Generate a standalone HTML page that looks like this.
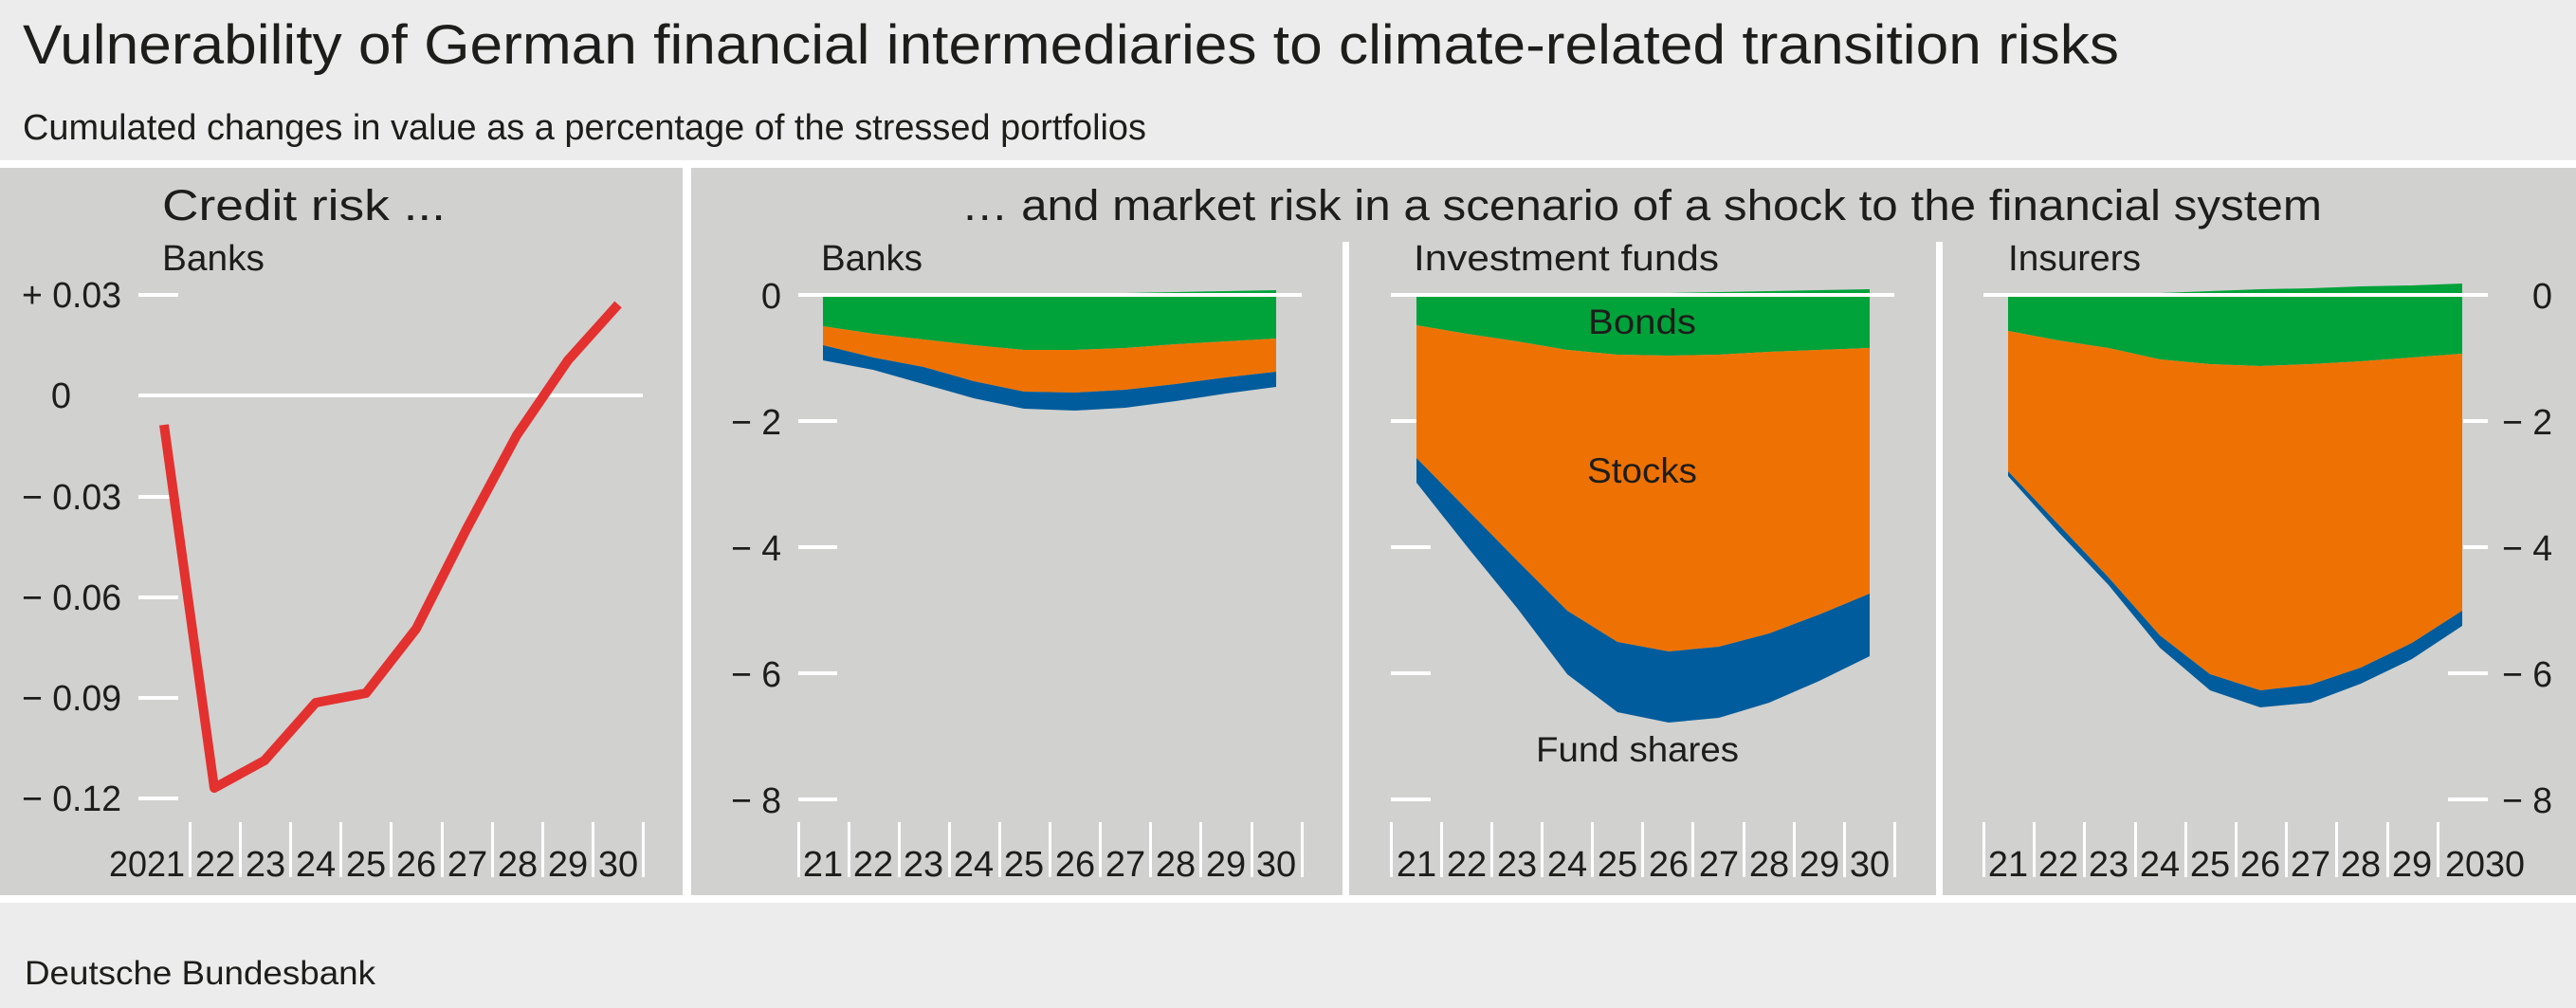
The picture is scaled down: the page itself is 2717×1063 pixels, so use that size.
<!DOCTYPE html>
<html><head><meta charset="utf-8"><style>
html,body{margin:0;padding:0;background:#ececec;}
svg{display:block;}
text{font-family:"Liberation Sans",sans-serif;fill:#1d1d1b;}
</style></head><body>
<svg width="2717" height="1063" viewBox="0 0 2717 1063" xmlns="http://www.w3.org/2000/svg">
<rect x="0" y="0" width="2717" height="1063" fill="#ececec"/>
<text x="24" y="67" font-size="58" textLength="2211" lengthAdjust="spacingAndGlyphs">Vulnerability of German financial intermediaries to climate-related transition risks</text>
<text x="24" y="147" font-size="38" textLength="1185" lengthAdjust="spacingAndGlyphs">Cumulated changes in value as a percentage of the stressed portfolios</text>
<rect x="0" y="169" width="2717" height="8" fill="#fff"/>
<rect x="0" y="177" width="2717" height="767" fill="#d1d1cf"/>
<rect x="0" y="944" width="2717" height="8" fill="#fff"/>
<rect x="720" y="169" width="9" height="783" fill="#fff"/>
<rect x="1416" y="255" width="7" height="690" fill="#fff"/>
<rect x="2042" y="255" width="7" height="690" fill="#fff"/>
<text x="26" y="1038" font-size="35" textLength="370" lengthAdjust="spacingAndGlyphs">Deutsche Bundesbank</text>

<!-- Left chart -->
<text x="171" y="232" font-size="45" textLength="299" lengthAdjust="spacingAndGlyphs">Credit risk ...</text>
<text x="171" y="285" font-size="38" textLength="108" lengthAdjust="spacingAndGlyphs">Banks</text>
<g fill="#fff">
<rect x="146" y="309" width="42" height="4"/>
<rect x="146" y="522" width="42" height="4"/>
<rect x="146" y="628" width="42" height="4"/>
<rect x="146" y="734" width="42" height="4"/>
<rect x="146" y="840" width="42" height="4"/>
<rect x="146" y="415" width="532" height="4"/>
</g>
<g font-size="38" text-anchor="end">
<text x="128" y="324" textLength="105" lengthAdjust="spacingAndGlyphs">+ 0.03</text>
<text x="75" y="430">0</text>
<text x="128" y="537" textLength="105" lengthAdjust="spacingAndGlyphs">− 0.03</text>
<text x="128" y="643" textLength="105" lengthAdjust="spacingAndGlyphs">− 0.06</text>
<text x="128" y="749" textLength="105" lengthAdjust="spacingAndGlyphs">− 0.09</text>
<text x="128" y="855" textLength="105" lengthAdjust="spacingAndGlyphs">− 0.12</text>
</g>
<g fill="#fff">
<rect x="199" y="867" width="3" height="58"/><rect x="252" y="867" width="3" height="58"/><rect x="305" y="867" width="3" height="58"/><rect x="358" y="867" width="3" height="58"/><rect x="411" y="867" width="3" height="58"/><rect x="465" y="867" width="3" height="58"/><rect x="518" y="867" width="3" height="58"/><rect x="571" y="867" width="3" height="58"/><rect x="624" y="867" width="3" height="58"/><rect x="677" y="867" width="3" height="58"/>
</g>
<g font-size="38" text-anchor="middle">
<text x="155" y="924" textLength="80" lengthAdjust="spacingAndGlyphs">2021</text>
<text x="227" y="924">22</text><text x="280" y="924">23</text><text x="333" y="924">24</text><text x="386" y="924">25</text><text x="439" y="924">26</text><text x="493" y="924">27</text><text x="546" y="924">28</text><text x="599" y="924">29</text><text x="652" y="924">30</text>
</g>
<polyline points="173,448 226,831 279,802 333,741 386,731 439,663 492,558 545,459 599,380 652,321" fill="none" stroke="#e3312f" stroke-width="10" stroke-linejoin="round"/>

<!-- Market risk title -->
<text x="1014" y="232" font-size="45" textLength="1435" lengthAdjust="spacingAndGlyphs">… and market risk in a scenario of a shock to the financial system</text>
<text x="866" y="285" font-size="38" textLength="107" lengthAdjust="spacingAndGlyphs">Banks</text>
<text x="1491" y="285" font-size="38" textLength="322" lengthAdjust="spacingAndGlyphs">Investment funds</text>
<text x="2118" y="285" font-size="38" textLength="140" lengthAdjust="spacingAndGlyphs">Insurers</text>

<!-- y ticks -->
<g fill="#fff">
<rect x="842" y="442" width="41" height="4"/><rect x="842" y="575" width="41" height="4"/><rect x="842" y="708" width="41" height="4"/><rect x="842" y="841" width="41" height="4"/>
<rect x="1467" y="442" width="42" height="4"/><rect x="1467" y="575" width="42" height="4"/><rect x="1467" y="708" width="42" height="4"/><rect x="1467" y="841" width="42" height="4"/>
<rect x="2598" y="442" width="26" height="4"/><rect x="2598" y="575" width="26" height="4"/><rect x="2582" y="708" width="42" height="4"/><rect x="2582" y="841" width="42" height="4"/>
</g>
<g font-size="38" text-anchor="end">
<text x="824" y="325">0</text>
<text x="824" y="458" textLength="53" lengthAdjust="spacingAndGlyphs">− 2</text>
<text x="824" y="591" textLength="53" lengthAdjust="spacingAndGlyphs">− 4</text>
<text x="824" y="724" textLength="53" lengthAdjust="spacingAndGlyphs">− 6</text>
<text x="824" y="857" textLength="53" lengthAdjust="spacingAndGlyphs">− 8</text>
<text x="2692" y="325">0</text>
<text x="2692" y="458" textLength="53" lengthAdjust="spacingAndGlyphs">− 2</text>
<text x="2692" y="591" textLength="53" lengthAdjust="spacingAndGlyphs">− 4</text>
<text x="2692" y="724" textLength="53" lengthAdjust="spacingAndGlyphs">− 6</text>
<text x="2692" y="857" textLength="53" lengthAdjust="spacingAndGlyphs">− 8</text>
</g>

<!-- Banks areas -->
<polygon fill="#00a23a" points="868,311 921,311 974,311 1027,311 1080,311 1134,310 1187,309 1240,308 1293,307 1346,306 1346,357 1293,360 1240,363 1187,367 1134,369 1080,369 1027,364 974,358 921,352 868,344"/>
<polygon fill="#ee7203" points="868,344 921,352 974,358 1027,364 1080,369 1134,369 1187,367 1240,363 1293,360 1346,357 1346,392 1293,398 1240,405 1187,411 1134,414 1080,413 1027,402 974,387 921,377 868,364"/>
<polygon fill="#005c9c" points="868,364 921,377 974,387 1027,402 1080,413 1134,414 1187,411 1240,405 1293,398 1346,392 1346,408 1293,415 1240,423 1187,430 1134,433 1080,431 1027,420 974,405 921,390 868,380"/>

<!-- Investment funds areas -->
<polygon fill="#00a23a" points="1494,313 1547,313 1600,312 1653,311 1706,310 1760,309 1813,308 1866,307 1919,306 1972,305 1972,367 1919,369 1866,371 1813,374 1760,375 1706,374 1653,369 1600,360 1547,352 1494,343"/>
<polygon fill="#ee7203" points="1494,343 1547,352 1600,360 1653,369 1706,374 1760,375 1813,374 1866,371 1919,369 1972,367 1972,626 1919,648 1866,668 1813,682 1760,687 1706,677 1653,644 1600,591 1547,537 1494,483"/>
<polygon fill="#005c9c" points="1494,483 1547,537 1600,591 1653,644 1706,677 1760,687 1813,682 1866,668 1919,648 1972,626 1972,692 1919,718 1866,741 1813,757 1760,762 1706,751 1653,711 1600,641 1547,576 1494,509"/>

<!-- Insurers areas -->
<polygon fill="#00a23a" points="2118,312 2171,311 2224,310 2278,309 2331,307 2384,305 2437,304 2490,302 2544,301 2597,299 2597,373 2544,377 2490,381 2437,384 2384,386 2331,384 2278,379 2224,367 2171,359 2118,349"/>
<polygon fill="#ee7203" points="2118,349 2171,359 2224,367 2278,379 2331,384 2384,386 2437,384 2490,381 2544,377 2597,373 2597,644 2544,678 2490,704 2437,722 2384,728 2331,711 2278,670 2224,609 2171,553 2118,497"/>
<polygon fill="#005c9c" points="2118,497 2171,553 2224,609 2278,670 2331,711 2384,728 2437,722 2490,704 2544,678 2597,644 2597,660 2544,695 2490,721 2437,741 2384,746 2331,728 2278,683 2224,617 2171,561 2118,502"/>

<!-- zero lines -->
<g fill="#fff">
<rect x="842" y="309" width="531" height="4"/>
<rect x="1467" y="309" width="531" height="4"/>
<rect x="2092" y="309" width="532" height="4"/>
</g>

<g font-size="37" text-anchor="middle">
<text x="1732" y="352" textLength="114" lengthAdjust="spacingAndGlyphs">Bonds</text>
<text x="1732" y="509" textLength="116" lengthAdjust="spacingAndGlyphs">Stocks</text>
<text x="1727" y="803" textLength="214" lengthAdjust="spacingAndGlyphs">Fund shares</text>
</g>

<!-- x ticks market -->
<g fill="#fff">
<rect x="841" y="867" width="3" height="58"/><rect x="894" y="867" width="3" height="58"/><rect x="947" y="867" width="3" height="58"/><rect x="1000" y="867" width="3" height="58"/><rect x="1053" y="867" width="3" height="58"/><rect x="1106" y="867" width="3" height="58"/><rect x="1159" y="867" width="3" height="58"/><rect x="1212" y="867" width="3" height="58"/><rect x="1265" y="867" width="3" height="58"/><rect x="1319" y="867" width="3" height="58"/><rect x="1372" y="867" width="3" height="58"/>
<rect x="1466" y="867" width="3" height="58"/><rect x="1519" y="867" width="3" height="58"/><rect x="1572" y="867" width="3" height="58"/><rect x="1625" y="867" width="3" height="58"/><rect x="1678" y="867" width="3" height="58"/><rect x="1731" y="867" width="3" height="58"/><rect x="1784" y="867" width="3" height="58"/><rect x="1838" y="867" width="3" height="58"/><rect x="1891" y="867" width="3" height="58"/><rect x="1944" y="867" width="3" height="58"/><rect x="1997" y="867" width="3" height="58"/>
<rect x="2091" y="867" width="3" height="58"/><rect x="2144" y="867" width="3" height="58"/><rect x="2197" y="867" width="3" height="58"/><rect x="2251" y="867" width="3" height="58"/><rect x="2304" y="867" width="3" height="58"/><rect x="2357" y="867" width="3" height="58"/><rect x="2410" y="867" width="3" height="58"/><rect x="2463" y="867" width="3" height="58"/><rect x="2517" y="867" width="3" height="58"/><rect x="2570" y="867" width="3" height="58"/>
</g>
<g font-size="38" text-anchor="middle">
<text x="868" y="924">21</text><text x="921" y="924">22</text><text x="974" y="924">23</text><text x="1027" y="924">24</text><text x="1080" y="924">25</text><text x="1134" y="924">26</text><text x="1187" y="924">27</text><text x="1240" y="924">28</text><text x="1293" y="924">29</text><text x="1346" y="924">30</text>
<text x="1494" y="924">21</text><text x="1547" y="924">22</text><text x="1600" y="924">23</text><text x="1653" y="924">24</text><text x="1706" y="924">25</text><text x="1760" y="924">26</text><text x="1813" y="924">27</text><text x="1866" y="924">28</text><text x="1919" y="924">29</text><text x="1972" y="924">30</text>
<text x="2118" y="924">21</text><text x="2171" y="924">22</text><text x="2224" y="924">23</text><text x="2278" y="924">24</text><text x="2331" y="924">25</text><text x="2384" y="924">26</text><text x="2437" y="924">27</text><text x="2490" y="924">28</text><text x="2544" y="924">29</text>
<text x="2621" y="924" textLength="84" lengthAdjust="spacingAndGlyphs">2030</text>
</g>
</svg>
</body></html>
